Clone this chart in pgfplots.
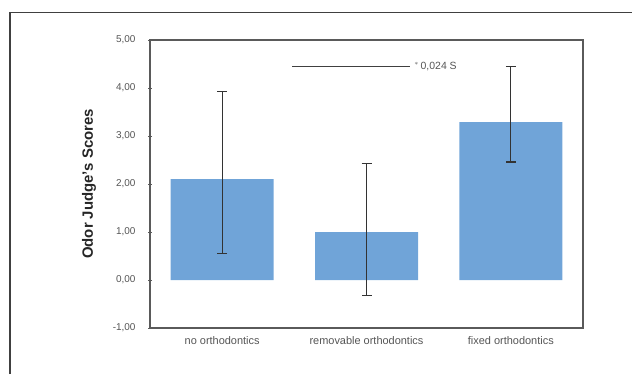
\documentclass[border=0pt]{standalone}
\usepackage{pgfplots}
\pgfplotsset{compat=1.18}
\usepackage{fontspec}
\setmainfont{Liberation Sans}
\definecolor{barblue}{RGB}{112,164,216}
\definecolor{txtgray}{RGB}{85,85,85}
\definecolor{axgray}{RGB}{90,90,90}
\begin{document}
\begin{tikzpicture}[x=1bp,y=1bp]
\useasboundingbox (0,0) rectangle (632,374);
\draw[line width=1.2bp, black!75] (10,0) -- (10,361.5) -- (632,361.5);
\begin{axis}[
  at={(150bp,46bp)}, anchor=south west,
  scale only axis, width=433bp, height=288bp,
  xmin=-0.5, xmax=2.5, ymin=-1, ymax=5,
  ytick={-1,0,1,2,3,4,5},
  xtick={0,1,2},
  xticklabels={no orthodontics, removable orthodontics, fixed orthodontics},
  x tick style={draw=none},
  y tick style={axgray, line width=0.8bp},
  tick align=center, major tick length=4bp,
  ytick pos=left,
  axis line style={axgray, line width=1.3bp},
  /pgf/number format/.cd, use comma, fixed, fixed zerofill, precision=2, assume math mode=true,
  /pgfplots/.cd,
  yticklabel style={font=\fontsize{10}{12}\selectfont, text=txtgray, xshift=-9bp},
  xticklabel style={font=\fontsize{11}{13}\selectfont, text=txtgray, yshift=-3bp},
  ylabel={Odor Judge's Scores},
  every axis y label/.style={at={(axis description cs:-0.141,0.5)}, rotate=90, anchor=center,
     font=\fontsize{15}{17}\selectfont\bfseries, text=black!85},
  clip=false,
]
\addplot[ybar, bar width=103bp, fill=barblue, draw=none,
  error bars/.cd, y dir=both, y explicit,
  error bar style={black!80, line width=0.9bp},
  error mark options={black!80, line width=1.2bp, mark size=5bp, rotate=90}]
  coordinates {
  (0,2.10) -= (0,1.55) += (0,1.82)
  (1,1.00) -= (0,1.32) += (0,1.43)
  (2,3.29) -= (0,0.83) += (0,1.15)
  };
\addplot[black!75, line width=0.9bp, forget plot] coordinates {(0.486,4.44) (1.30,4.44)};
\node[anchor=west, font=\fontsize{10.5}{12}\selectfont, text=txtgray, inner sep=0pt] at (axis cs:1.33,4.44) {$^{*}$\,0,024 S};
\end{axis}
\end{tikzpicture}
\end{document}
